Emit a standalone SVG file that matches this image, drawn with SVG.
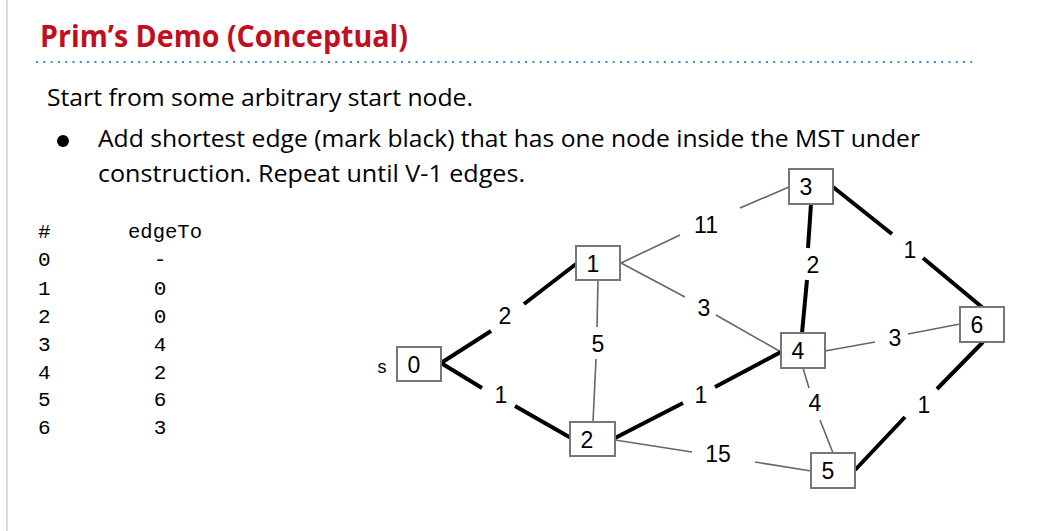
<svg xmlns="http://www.w3.org/2000/svg" width="1037" height="531" viewBox="0 0 1037 531">
  <style>
    .title { font-family: "Open Sans", "Liberation Sans", sans-serif; font-weight: bold; font-size: 30px; fill: #C00F1E; }
    .body { font-family: "Open Sans", "Liberation Sans", sans-serif; font-size: 24px; fill: #000; }
    .mono { font-family: "Liberation Mono", "DejaVu Sans Mono", monospace; font-size: 21px; fill: #000; }
    .node rect { fill: #fff; stroke: #777; stroke-width: 2; }
    .node text, .w { font-family: "Liberation Sans", Arial, sans-serif; font-size: 23px; fill: #000; }
    .w { text-anchor: middle; }
    .thick { stroke: #000; stroke-width: 4; fill: none; }
    .thin { stroke: #666; stroke-width: 1.6; fill: none; }
  </style>

  <rect width="1037" height="531" fill="#fff"/>
  <line x1="7" y1="0" x2="7" y2="531" stroke="#d0d0d0" stroke-width="1.5"/>

  <!-- heading -->
  <text class="title" x="40" y="47" textLength="368" lengthAdjust="spacingAndGlyphs">Prim’s Demo (Conceptual)</text>
  <line x1="36" y1="62" x2="972" y2="62" stroke="#3E85D6" stroke-width="2" stroke-dasharray="2 5.3"/>

  <!-- description -->
  <text class="body" x="47" y="106" textLength="426" lengthAdjust="spacingAndGlyphs">Start from some arbitrary start node.</text>
  <circle cx="63" cy="141" r="6" fill="#000"/>
  <text class="body" x="98" y="147" textLength="822" lengthAdjust="spacingAndGlyphs">Add shortest edge (mark black) that has one node inside the MST under</text>
  <text class="body" x="98" y="182" textLength="427" lengthAdjust="spacingAndGlyphs">construction. Repeat until V-1 edges.</text>

  <!-- edgeTo table -->
  <g id="table" class="mono">
    <text x="38" y="238">#</text>
    <text x="128" y="238" textLength="74" lengthAdjust="spacingAndGlyphs">edgeTo</text>
    <text x="38" y="266">0</text><text x="160" y="266" text-anchor="middle">-</text>
    <text x="38" y="295">1</text><text x="160" y="295" text-anchor="middle">0</text>
    <text x="38" y="323">2</text><text x="160" y="323" text-anchor="middle">0</text>
    <text x="38" y="351">3</text><text x="160" y="351" text-anchor="middle">4</text>
    <text x="38" y="379">4</text><text x="160" y="379" text-anchor="middle">2</text>
    <text x="38" y="406">5</text><text x="160" y="406" text-anchor="middle">6</text>
    <text x="38" y="434">6</text><text x="160" y="434" text-anchor="middle">3</text>
  </g>

  <!-- edges, each split around its weight label -->
  <g id="edges">
    <path class="thick" d="M441,363 L491,331 M524,304 L576,264"/>
    <path class="thick" d="M441,363 L482,388 M515,406 L571,438"/>
    <path class="thin" d="M598,280 L597,327 M596,359 L593,422"/>
    <path class="thin" d="M621,263 L680,235 M740,208 L789,187"/>
    <path class="thin" d="M621,263 L685,297 M716,315 L781,352"/>
    <path class="thick" d="M615,438 L683,403 M715,387 L781,352"/>
    <path class="thin" d="M615,440 L692,452 M755,462 L811,471"/>
    <path class="thick" d="M811,204 L808,248 M807,280 L802,333"/>
    <path class="thick" d="M833,187 L892,234 M923,258 L983,308"/>
    <path class="thin" d="M825,351 L875,342 M908,334 L960,324"/>
    <path class="thin" d="M803,368 L809,388 M820,420 L833,453"/>
    <path class="thick" d="M855,470 L905,417 M937,389 L983,342"/>

    <text class="w" x="505" y="324">2</text>
    <text class="w" x="501" y="403">1</text>
    <text class="w" x="598" y="352">5</text>
    <text class="w" x="706" y="233">11</text>
    <text class="w" x="704" y="316">3</text>
    <text class="w" x="701" y="403">1</text>
    <text class="w" x="718" y="462">15</text>
    <text class="w" x="813" y="273">2</text>
    <text class="w" x="910" y="258">1</text>
    <text class="w" x="895" y="346">3</text>
    <text class="w" x="815" y="411">4</text>
    <text class="w" x="924" y="413">1</text>
  </g>

  <!-- vertices -->
  <g id="node0" class="node">
    <text x="382" y="373" text-anchor="middle" style="font-size:18px">s</text>
    <rect x="397" y="347" width="44" height="34"/>
    <text x="414" y="373" text-anchor="middle">0</text>
  </g>
  <g id="node1" class="node">
    <rect x="576" y="246" width="44" height="34"/>
    <text x="593" y="272" text-anchor="middle">1</text>
  </g>
  <g id="node2" class="node">
    <rect x="570" y="422" width="45" height="34"/>
    <text x="587" y="448" text-anchor="middle">2</text>
  </g>
  <g id="node3" class="node">
    <rect x="789" y="169" width="44" height="35"/>
    <text x="806" y="195" text-anchor="middle">3</text>
  </g>
  <g id="node4" class="node">
    <rect x="781" y="333" width="44" height="35"/>
    <text x="798" y="359" text-anchor="middle">4</text>
  </g>
  <g id="node5" class="node">
    <rect x="811" y="453" width="44" height="35"/>
    <text x="828" y="479" text-anchor="middle">5</text>
  </g>
  <g id="node6" class="node">
    <rect x="960" y="307" width="44" height="35"/>
    <text x="977" y="333" text-anchor="middle">6</text>
  </g>
</svg>
